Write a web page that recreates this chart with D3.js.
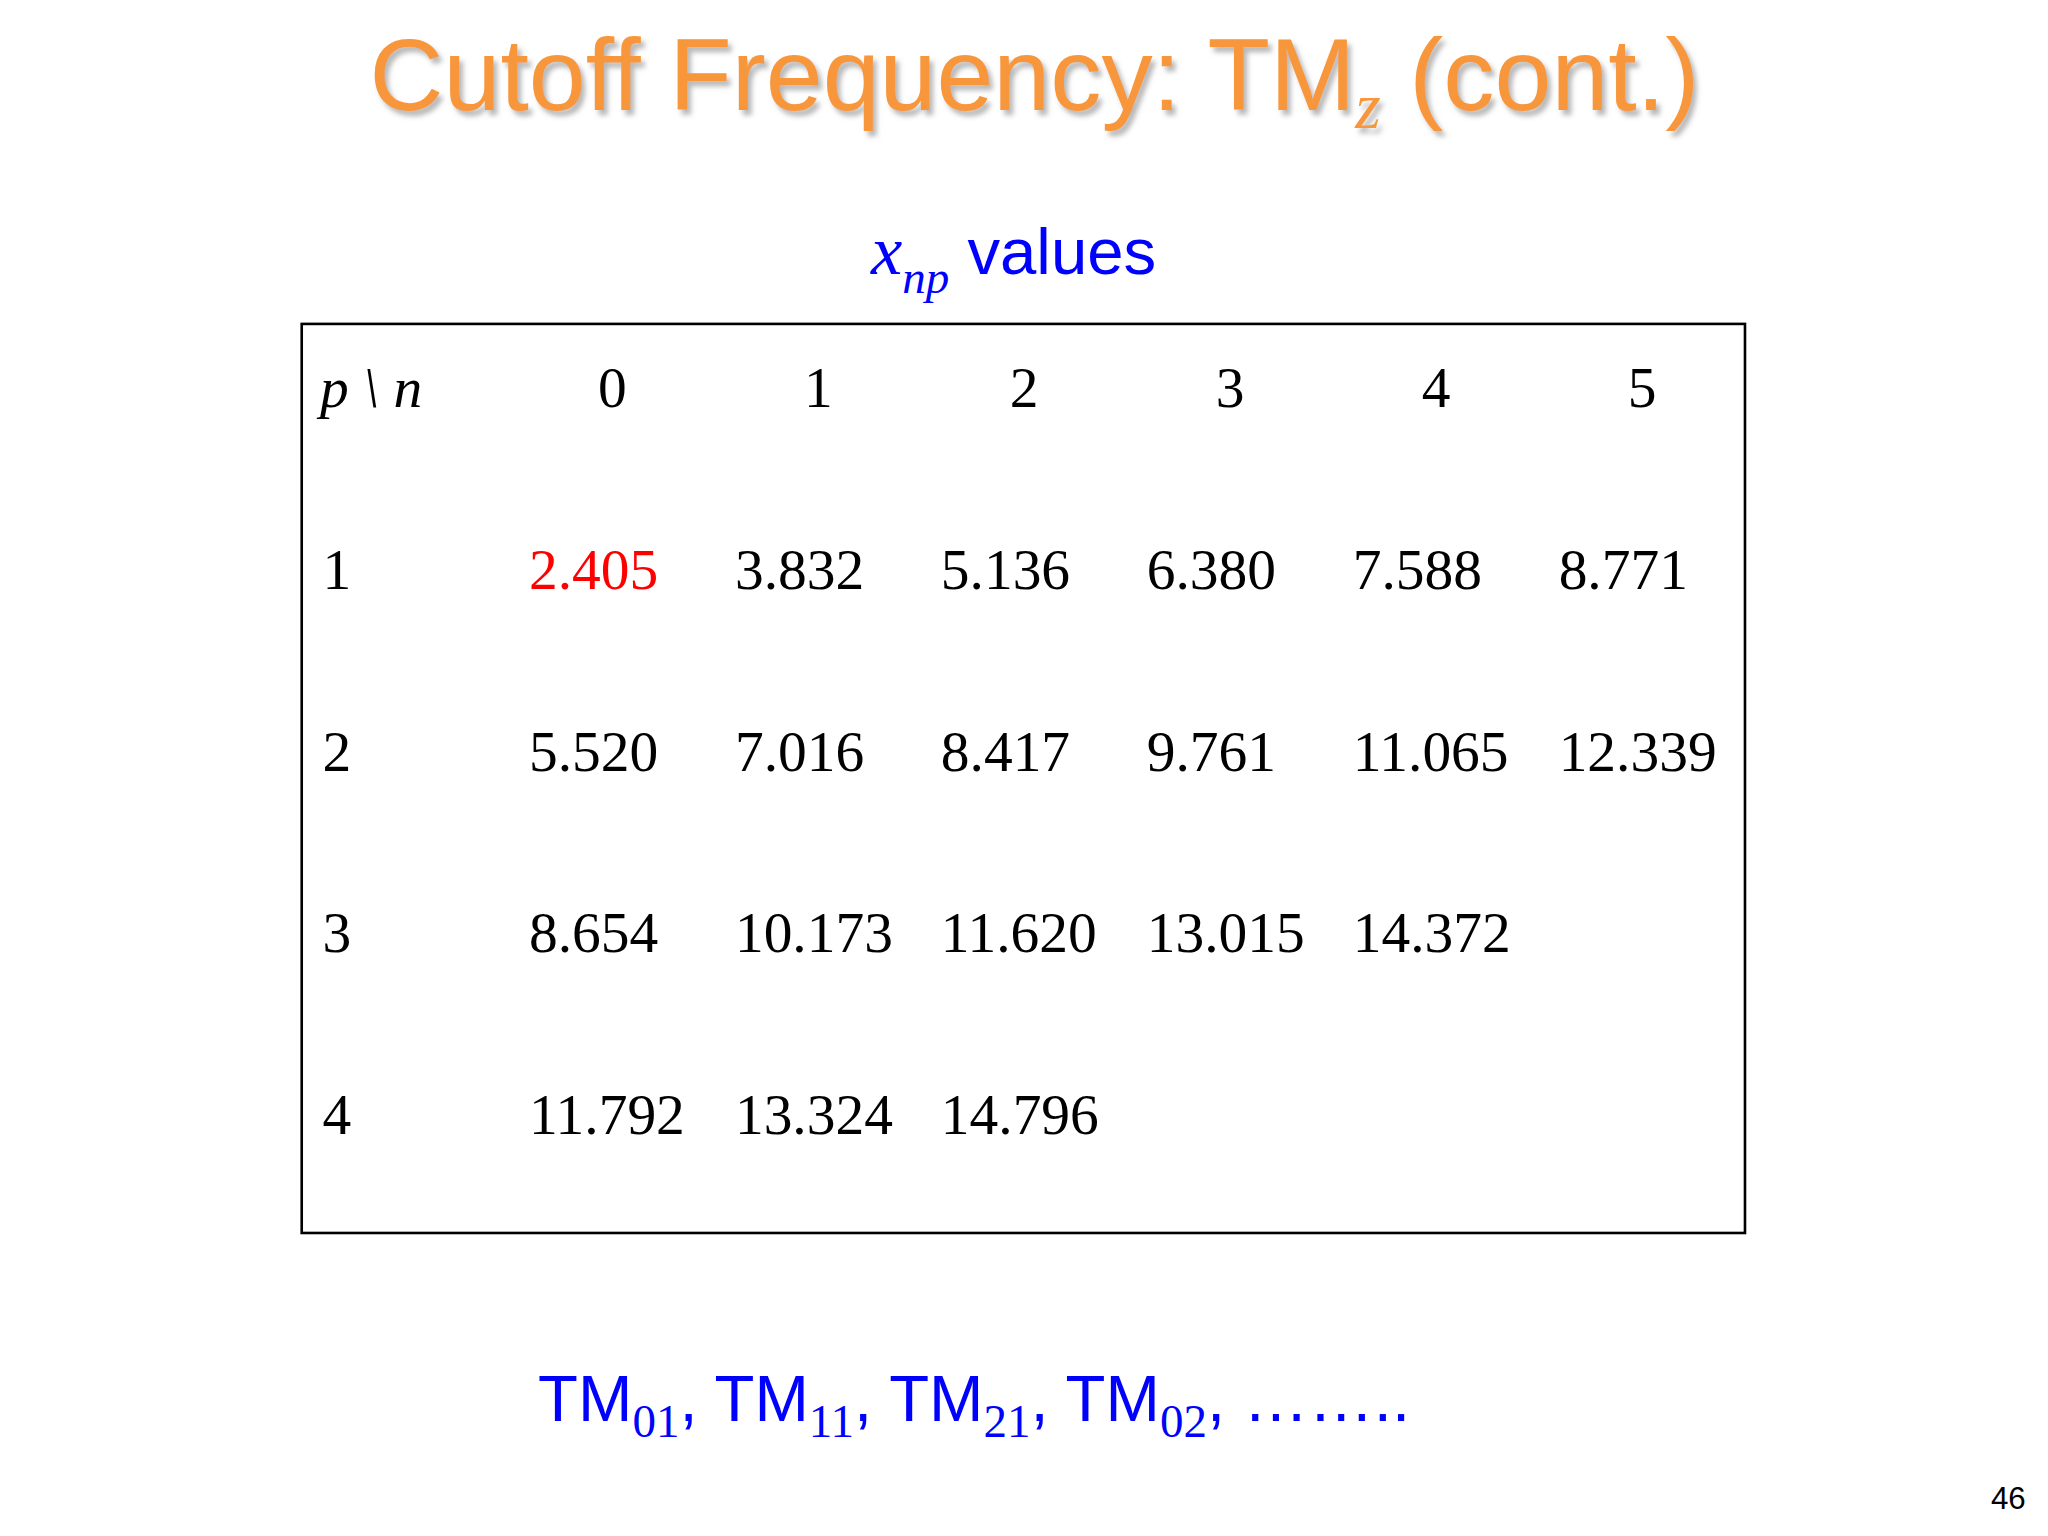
<!DOCTYPE html>
<html><head><meta charset="utf-8">
<script src="https://cdn.jsdelivr.net/npm/d3@7"></script>
<style>body{margin:0;background:#fff}</style></head>
<body><svg id="c" width="2048" height="1536" viewBox="0 0 1568 1176"></svg>
<script>
const columns = ["0","1","2","3","4","5"];
const rowsP = ["1","2","3","4"];
const row1 = ["2.405","3.832","5.136","6.380","7.588","8.771"];
const row2 = ["5.520","7.016","8.417","9.761","11.065","12.339"];
const row3 = ["8.654","10.173","11.620","13.015","14.372"];
const row4 = ["11.792","13.324","14.796"];
const values = [row1,row2,row3,row4];
const modes = ["01","11","21","02"];

const svg = d3.select("#c");
const defs = svg.append("defs");
const f = defs.append("filter").attr("id","sh").attr("x","-10%").attr("y","-10%").attr("width","120%").attr("height","130%");
f.append("feDropShadow").attr("dx",3).attr("dy",4).attr("stdDeviation",2).attr("flood-color","#888").attr("flood-opacity",0.6);

// Title
const t = svg.append("text").attr("x",792).attr("y",84).attr("text-anchor","middle")
  .attr("font-family","Liberation Sans, Arial, sans-serif").attr("font-size",78)
  .attr("fill","#F7963A").attr("filter","url(#sh)").attr("textLength",1018).attr("lengthAdjust","spacingAndGlyphs");
t.append("tspan").text("Cutoff Frequency: TM");
t.append("tspan").attr("font-family","Liberation Serif, Times New Roman, serif").attr("font-style","italic").attr("font-size",50).attr("dy",14).text("z");
t.append("tspan").attr("dy",-14).text(" (cont.)");

// Subtitle
const s = svg.append("text").attr("x",776).attr("y",210).attr("text-anchor","middle").attr("fill","#0000FF")
  .attr("font-family","Liberation Sans, Arial, sans-serif").attr("font-size",50);
s.append("tspan").attr("font-family","Liberation Serif, serif").attr("font-style","italic").attr("font-size",54).text("x");
s.append("tspan").attr("font-family","Liberation Serif, serif").attr("font-style","italic").attr("font-size",36).attr("dy",14).text("np");
s.append("tspan").attr("dy",-14).text(" values");

// Table
svg.append("rect").attr("x",231).attr("y",248).attr("width",1105).attr("height",696)
  .attr("fill","none").attr("stroke","#000").attr("stroke-width",2);
const x = d3.scaleBand().domain(columns).range([389,1335]);
const y = d3.scaleBand().domain(["h"].concat(rowsP)).range([228,924]);
const font = "Liberation Serif, Times New Roman, serif";
const hd = svg.append("text").attr("x",245).attr("y",y("h")+y.bandwidth()/2+14).attr("font-family",font).attr("font-size",44).attr("font-style","italic");
hd.append("tspan").text("p \\ n");
svg.selectAll(".ch").data(columns).join("text").attr("x",d=>x(d)+x.bandwidth()/2+1).attr("y",y("h")+y.bandwidth()/2+14)
  .attr("text-anchor","middle").attr("font-family",font).attr("font-size",44).text(d=>d);
svg.selectAll(".rl").data(rowsP).join("text").attr("x",247).attr("y",d=>y(d)+y.bandwidth()/2+14)
  .attr("font-family",font).attr("font-size",44).text(d=>d);
values.forEach((r,i)=>{
  svg.selectAll(".v"+i).data(r).join("text").attr("x",(d,j)=>x(columns[j])+16).attr("y",y(rowsP[i])+y.bandwidth()/2+14)
    .attr("font-family",font).attr("font-size",44).attr("fill",(d,j)=>(i===0&&j===0)?"#FF0000":"#000").text(d=>d);
});

// Bottom line
const b = svg.append("text").attr("x",412).attr("y",1088).attr("fill","#0000FF")
  .attr("font-family","Liberation Sans, Arial, sans-serif").attr("font-size",50);
modes.forEach((m,i)=>{
  b.append("tspan").attr("dy",i?-12:0).text((i?", ":"")+"TM");
  b.append("tspan").attr("font-family",font).attr("font-size",36).attr("dy",12).text(m);
});
b.append("tspan").attr("dy",-12).text(", ……..");

svg.append("text").attr("x",1551).attr("y",1155).attr("text-anchor","end").attr("font-family","Liberation Sans, Arial, sans-serif").attr("font-size",24).text("46");
</script></body></html>
